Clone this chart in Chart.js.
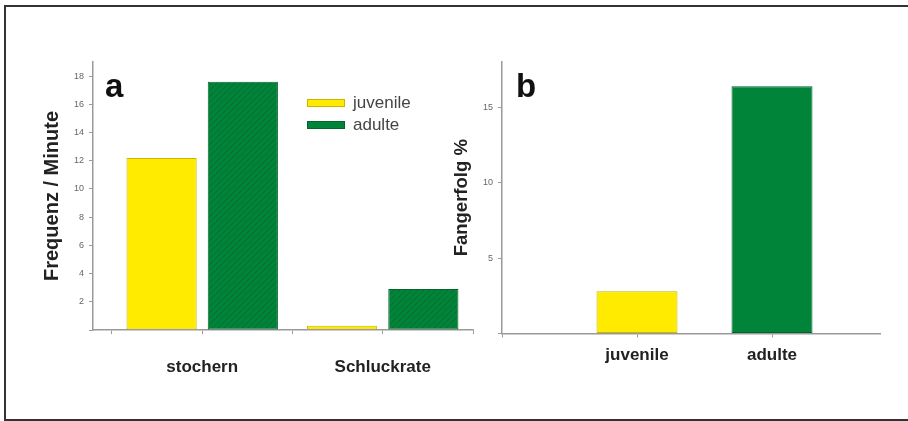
<!DOCTYPE html>
<html>
<head>
<meta charset="utf-8">
<script src="https://cdn.jsdelivr.net/npm/chart.js@4/dist/chart.umd.min.js"></script>
<style>
  html, body { margin: 0; padding: 0; background: #fff; width: 908px; height: 421px; overflow: hidden;
    font-family: "Liberation Sans", Arial, sans-serif; }
  #frame { position: absolute; left: 4px; top: 5px; width: 1000px; height: 416px; box-sizing: border-box;
    border: 2px solid #333; border-right: none; }
  canvas { position: absolute; top: 0; }
  #chartA { left: 0; }
  #chartB { left: 440px; }
  .panel { position: absolute; font-weight: bold; font-size: 33px; line-height: 1; color: #111; }
  #legend { position: absolute; left: 307px; top: 92px; font-size: 17px; color: #444; line-height: 22px; }
  #legend .row { display: flex; align-items: center; height: 22px; }
  #legend .sw { width: 38px; height: 8px; box-sizing: border-box; margin-right: 8px; }
</style>
</head>
<body>
<div id="frame"></div>
<canvas id="chartA" width="496" height="421"></canvas>
<canvas id="chartB" width="468" height="421"></canvas>
<div class="panel" style="left:105px; top:69px;">a</div>
<div class="panel" style="left:516px; top:69px;">b</div>
<div id="legend"></div>
<script>
// Panel a: foraging behaviour per minute
const categoriesA = ['stochern', 'Schluckrate'];
const juvenileA = [12.2, 0.3];
const adulteA = [17.6, 2.9];
const yTicksA = [2, 4, 6, 8, 10, 12, 14, 16, 18];

// Panel b: catch success in percent
const categoriesB = ['juvenile', 'adulte'];
const fangerfolgB = [2.8, 16.4];
const yTicksB = [5, 10, 15];

const seriesNames = ['juvenile', 'adulte'];

const YELLOW = '#ffeb00';
const YELLOW_EDGE = '#c9b600';
const GREEN = '#00843a';
const GREEN_EDGE = '#05632b';
const AXIS = '#9a9a9a';
const FONT = '"Liberation Sans", Arial, sans-serif';

Chart.defaults.font.family = FONT;
Chart.defaults.animation = false;

// diagonal hatch used for the adult bars in panel a
function hatch() {
  const c = document.createElement('canvas');
  c.width = 6; c.height = 6;
  const g = c.getContext('2d');
  g.fillStyle = GREEN;
  g.fillRect(0, 0, 6, 6);
  g.strokeStyle = '#0a6a30';
  g.lineWidth = 1;
  g.beginPath();
  g.moveTo(0, 6); g.lineTo(6, 0);
  g.moveTo(-1, 1); g.lineTo(1, -1);
  g.moveTo(5, 7); g.lineTo(7, 5);
  g.stroke();
  return g.createPattern(c, 'repeat');
}

// category i of panel a sits on the odd unit positions 1, 3 of a linear index axis
const pointsA = vals => vals.map((v, i) => ({ x: 2 * i + 1, y: v }));
const pointsB = vals => vals.map((v, i) => ({ x: i + 1, y: v }));

function yAxis(max, step, ticks, title, titleSize, boxWidth, titlePad) {
  return {
    min: 0, max: max,
    afterBuildTicks: s => { s.ticks = [0].concat(ticks).map(v => ({ value: v })); },
    ticks: { stepSize: step, includeBounds: false, color: '#666', font: { size: 9 }, padding: 5,
      callback: v => (v === 0 ? '' : v) },
    grid: { drawOnChartArea: false, tickLength: 4, color: AXIS, lineWidth: 1 },
    border: { color: AXIS, width: 1.5 },
    title: { display: true, text: title, color: '#222', font: { size: titleSize, weight: 'bold' },
      padding: { top: titlePad, bottom: 0 } },
    afterFit: s => { s.width = boxWidth; }
  };
}

function xAxis(min, max, labelFor, labelPad) {
  return {
    type: 'linear', min: min, max: max, offset: false,
    ticks: { stepSize: 1, includeBounds: false, autoSkip: false, maxRotation: 0,
      color: '#222', font: { size: 17, weight: 'bold' }, padding: labelPad,
      callback: v => labelFor(v) },
    grid: { drawOnChartArea: false, offset: false, tickLength: 4, color: AXIS, lineWidth: 1 },
    border: { color: AXIS, width: 1.5 },
    afterFit: s => { s.height = 50; }
  };
}

new Chart(document.getElementById('chartA'), {
  type: 'bar',
  data: {
    datasets: [
      { label: seriesNames[0], data: pointsA(juvenileA), backgroundColor: YELLOW,
        borderColor: YELLOW_EDGE, borderWidth: 1, borderSkipped: false },
      { label: seriesNames[1], data: pointsA(adulteA), backgroundColor: hatch(),
        borderColor: GREEN_EDGE, borderWidth: 1, borderSkipped: false }
    ]
  },
  options: {
    responsive: false,
    categoryPercentage: 1.8,
    barPercentage: 0.864,
    layout: { padding: { left: 15, right: 0, top: 62, bottom: 41 } },
    plugins: { legend: { display: false }, tooltip: { enabled: false } },
    scales: {
      x: xAxis(-0.21, 4, v => {
        const i = (v - 1) / 2;
        return Number.isInteger(i) && categoriesA[i] ? categoriesA[i] : '';
      }, 23),
      y: yAxis(19, 2, yTicksA, 'Frequenz / Minute', 20, 78, 25)
    }
  }
});

new Chart(document.getElementById('chartB'), {
  type: 'bar',
  data: {
    datasets: [
      { label: 'Fangerfolg %', data: pointsB(fangerfolgB),
        backgroundColor: [YELLOW, GREEN], borderColor: [YELLOW_EDGE, GREEN_EDGE],
        borderWidth: 1, borderSkipped: false }
    ]
  },
  options: {
    responsive: false,
    categoryPercentage: 1,
    barPercentage: 0.6,
    layout: { padding: { left: 0, right: 28, top: 62, bottom: 37.5 } },
    plugins: { legend: { display: false }, tooltip: { enabled: false } },
    scales: {
      x: xAxis(0, 2.8, v => categoriesB[v - 1] || '', 8),
      y: yAxis(18, 5, yTicksB, 'Fangerfolg %', 18.5, 62, 11)
    }
  }
});

// legend for panel a
const legend = document.getElementById('legend');
[[YELLOW, YELLOW_EDGE], [GREEN, GREEN_EDGE]].forEach((c, i) => {
  const row = document.createElement('div');
  row.className = 'row';
  const sw = document.createElement('span');
  sw.className = 'sw';
  sw.style.background = c[0];
  sw.style.border = '1px solid ' + c[1];
  row.appendChild(sw);
  row.appendChild(document.createTextNode(seriesNames[i]));
  legend.appendChild(row);
});
</script>
</body>
</html>
